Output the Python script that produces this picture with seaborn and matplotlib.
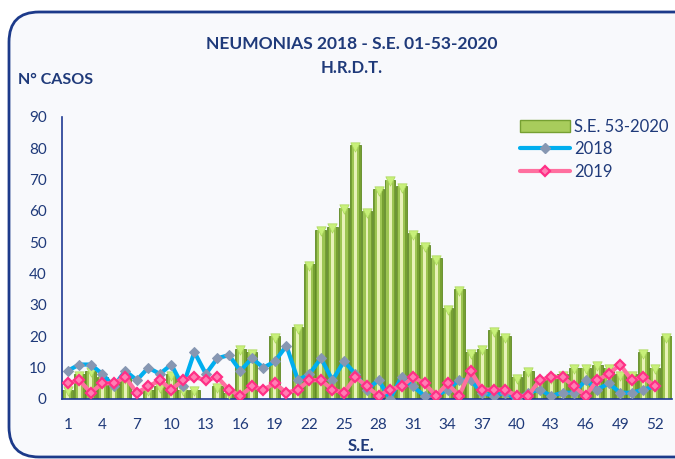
import matplotlib
matplotlib.use("Agg")
import matplotlib.pyplot as plt
from matplotlib.patches import FancyBboxPatch, Patch
from matplotlib.lines import Line2D
import seaborn as sns

# semanas epidemiologicas
weeks = list(range(1, 54))
casos_2020 = [3, 8, 9, 7, 5, 7, 0, 3, 4, 8, 3, 3, 0, 4, 2, 16, 15, 0, 20, 0,
              23, 43, 54, 55, 61, 81, 60, 67, 70, 68, 53, 49, 45, 29, 35, 15, 16, 22, 20, 7,
              9, 6, 7, 8, 10, 10, 11, 10, 8, 8, 15, 10, 20]
weeks_prev = list(range(1, 53))
casos_2018 = [9, 11, 11, 8, 4, 9, 6, 10, 8, 11, 4, 15, 8, 13, 14, 9, 13, 10, 12, 17,
              6, 8, 13, 6, 12, 8, 3, 6, 0, 7, 4, 1, 1, 3, 6, 6, 2, 1, 2, 0,
              2, 3, 1, 2, 2, 6, 3, 5, 2, 2, 3, 4]
casos_2019 = [5, 6, 2, 5, 5, 7, 2, 4, 6, 3, 6, 7, 6, 7, 3, 1, 4, 3, 5, 2,
              3, 6, 6, 3, 2, 7, 4, 1, 3, 4, 7, 5, 1, 5, 1, 9, 3, 3, 3, 1,
              1, 6, 7, 7, 4, 1, 6, 8, 11, 6, 7, 4]
tick_weeks = list(range(1, 53, 3))
y_ticks = list(range(0, 91, 10))

NAVY = "#1f3a7a"
BORDER = "#1c3a8a"
BLUE = "#00aeef"
GRAY = "#8797b2"
PINK = "#ff6f9f"
PINK_DARK = "#ff2f86"


def main():
	sns.set_theme(style="white")
	plt.rcParams["font.family"] = ["Lato", "DejaVu Sans"]

	fig = plt.figure(figsize=(6.75, 4.59), dpi=100)
	fig.patch.set_facecolor("white")
	box = FancyBboxPatch((0.09, 0.02), 7.0, 4.45, boxstyle="round,pad=0,rounding_size=0.3",
						 transform=fig.dpi_scale_trans, facecolor="#f8f9fc",
						 edgecolor=BORDER, linewidth=2, zorder=-10)
	fig.patches.append(box)

	ax = fig.add_axes([62 / 675, 1 - 399 / 459, 610 / 675, 282 / 459])
	ax.set_facecolor("none")
	ax.set_zorder(2)

	# barras tipo cilindro: varias capas de ancho decreciente
	nz_w = [w for w, v in zip(weeks, casos_2020) if v > 0]
	nz_v = [v for v in casos_2020 if v > 0]
	sns.barplot(x=nz_w, y=nz_v, native_scale=True, width=0.95, color="#76a032",
				saturation=1, errorbar=None, ax=ax, linewidth=0.6, edgecolor="#5f8a24")
	sns.barplot(x=nz_w, y=nz_v, native_scale=True, width=0.62, color="#9dc553",
				saturation=1, errorbar=None, ax=ax, linewidth=0)
	sns.barplot(x=nz_w, y=nz_v, native_scale=True, width=0.26, color="#e8f2b8",
				saturation=1, errorbar=None, ax=ax, linewidth=0)
	sns.scatterplot(x=nz_w, y=[v - 0.5 for v in nz_v], marker="v", s=45, color="#c8f07a",
					edgecolor="#a9d65a", linewidth=0.5, ax=ax, zorder=3)

	sns.lineplot(x=weeks_prev, y=casos_2018, color=BLUE, linewidth=3, marker="D",
				 markersize=5.5, markerfacecolor=GRAY, markeredgecolor=GRAY, ax=ax, zorder=4)
	sns.lineplot(x=weeks_prev, y=casos_2019, color=PINK, linewidth=3, marker="D",
				 markersize=4.8, markerfacecolor="#ff7fb3", markeredgecolor=PINK_DARK,
				 markeredgewidth=1.6, ax=ax, zorder=5)

	ax.set_xlim(0.5, 53.5)
	ax.set_ylim(0, 90)
	ax.set_xticks(tick_weeks)
	ax.set_xticklabels([str(t) for t in tick_weeks])
	ax.set_yticks(y_ticks)
	ax.tick_params(axis="both", length=0, labelsize=11, labelcolor=NAVY)
	ax.tick_params(axis="x", pad=14)
	ax.tick_params(axis="y", pad=11)
	sns.despine(ax=ax)
	for side in ["left", "bottom"]:
		ax.spines[side].set_color("#1f3a93")
		ax.spines[side].set_linewidth(1.2)
	ax.grid(False)
	ax.set_xlabel("")
	ax.set_ylabel("")

	fig.text(0.521, 1 - 44 / 459, "NEUMONIAS 2018 - S.E. 01-53-2020", ha="center", va="center",
			 fontsize=12.5, fontweight="bold", color=NAVY)
	fig.text(0.521, 1 - 68 / 459, "H.R.D.T.", ha="center", va="center",
			 fontsize=12, fontweight="bold", color=NAVY)
	fig.text(18 / 675, 1 - 80 / 459, "N° CASOS", ha="left", va="center",
			 fontsize=11.5, fontweight="bold", color=NAVY)
	fig.text(361 / 675, 1 - 446 / 459, "S.E.", ha="center", va="center",
			 fontsize=12, fontweight="bold", color=NAVY)

	handles = [
		Patch(facecolor="#a8cc5c", edgecolor="#76a032"),
		Line2D([], [], color=BLUE, linewidth=3, marker="D", markersize=5.5,
			   markerfacecolor=GRAY, markeredgecolor=GRAY),
		Line2D([], [], color=PINK, linewidth=3, marker="D", markersize=4.8,
			   markerfacecolor="#ff7fb3", markeredgecolor=PINK_DARK, markeredgewidth=1.6),
	]
	ax.legend(handles, ["S.E. 53-2020", "2018", "2019"], loc="upper left",
			  bbox_to_anchor=(520 / 675, 1 - 119 / 459), bbox_transform=fig.transFigure,
			  frameon=False, fontsize=12, labelcolor=NAVY, handlelength=3.0,
			  handletextpad=0.25, labelspacing=0.38, borderpad=0, borderaxespad=0)

	fig.savefig("out.png", dpi=100)


if __name__ == "__main__":
	main()
